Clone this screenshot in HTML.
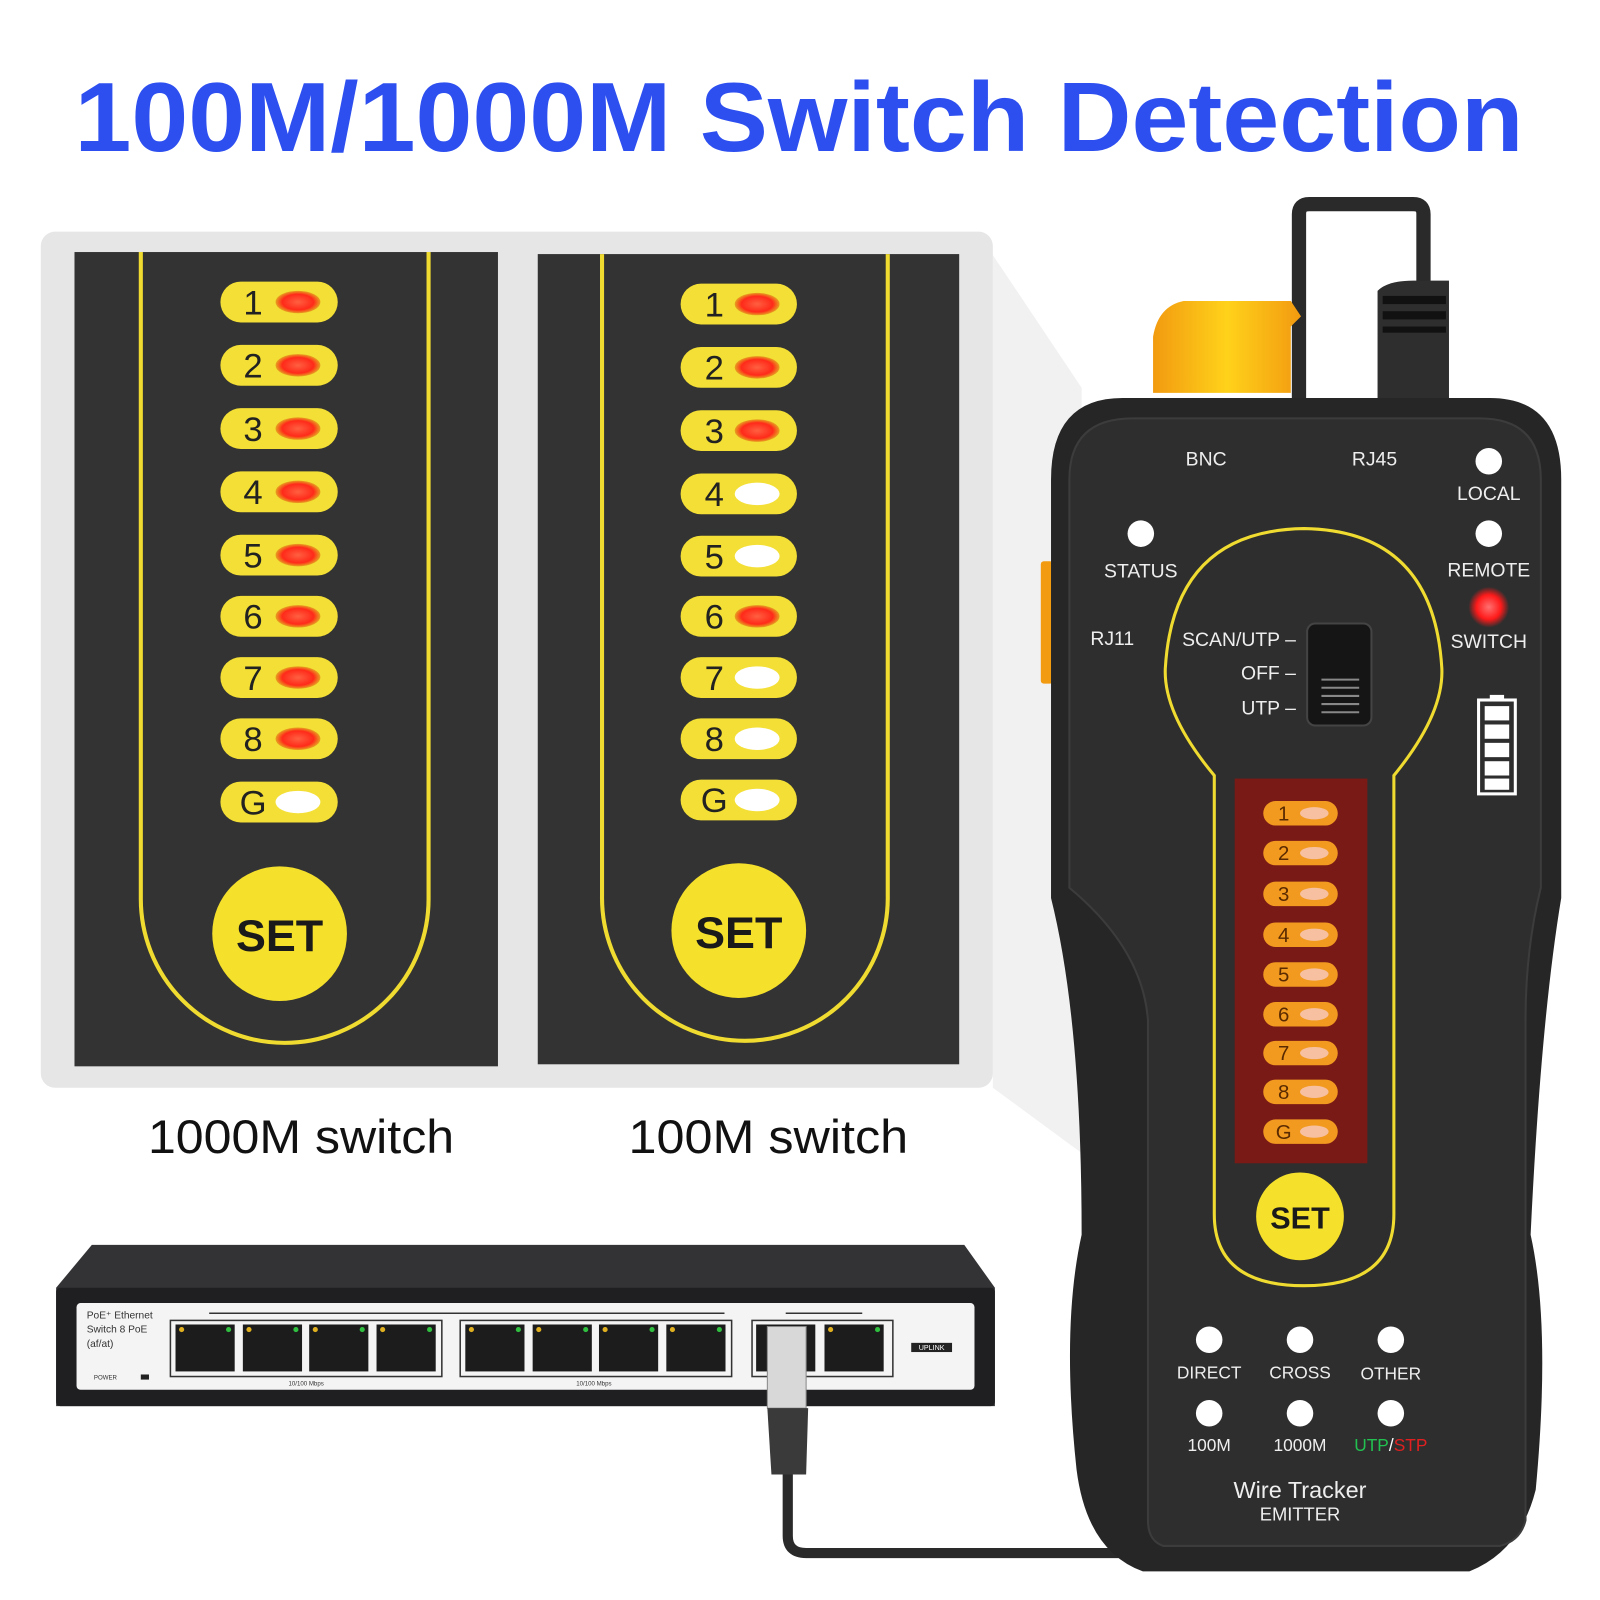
<!DOCTYPE html>
<html><head><meta charset="utf-8"><style>
html,body{margin:0;padding:0;background:#fff;}
svg{display:block;}
text{font-family:"Liberation Sans",sans-serif;}
</style></head><body>
<svg width="1600" height="1600" viewBox="0 0 1568 1568" xmlns="http://www.w3.org/2000/svg">
<defs>
<linearGradient id="yg" x1="0" x2="1"><stop offset="0" stop-color="#f29a10"/><stop offset="0.5" stop-color="#ffd21a"/><stop offset="1" stop-color="#f29a10"/></linearGradient>
<radialGradient id="rg"><stop offset="0" stop-color="#ff6040"/><stop offset="0.7" stop-color="#ff2a1a"/><stop offset="1" stop-color="#e8a020"/></radialGradient>
<radialGradient id="rled"><stop offset="0" stop-color="#ff7070"/><stop offset="0.6" stop-color="#ff1a1a"/><stop offset="1" stop-color="#ff1a1a" stop-opacity="0"/></radialGradient>
</defs>
<rect width="1568" height="1568" fill="#fff"/>
<polygon points="973,250 1060,380 1060,1130 973,1066" fill="#f1f1f1"/>
<text x="783" y="148" font-size="96" font-weight="bold" fill="#2d4ff0" text-anchor="middle" textLength="1420" lengthAdjust="spacingAndGlyphs">100M/1000M Switch Detection</text>
<rect x="40" y="227" width="933" height="839" rx="14" fill="#e6e6e6"/>
<rect x="73" y="247" width="415" height="798" fill="#333"/>
<path d="M138,247 V880 A141,141 0 0 0 279,1022 A141,141 0 0 0 420,880 V247" fill="none" stroke="#f0dc30" stroke-width="4"/>
<rect x="527" y="249" width="413" height="794" fill="#333"/>
<path d="M590,249 V878 A140,140 0 0 0 730,1020 A140,140 0 0 0 870,878 V249" fill="none" stroke="#f0dc30" stroke-width="4"/>
<g font-size="34" fill="#222" text-anchor="middle">
<g>
<rect x="216" y="276" width="115" height="40" rx="20" fill="#f3df35"/><ellipse cx="292" cy="296" rx="22" ry="11" fill="url(#rg)"/><text x="248" y="308">1</text>
<rect x="216" y="338" width="115" height="40" rx="20" fill="#f3df35"/><ellipse cx="292" cy="358" rx="22" ry="11" fill="url(#rg)"/><text x="248" y="370">2</text>
<rect x="216" y="400" width="115" height="40" rx="20" fill="#f3df35"/><ellipse cx="292" cy="420" rx="22" ry="11" fill="url(#rg)"/><text x="248" y="432">3</text>
<rect x="216" y="462" width="115" height="40" rx="20" fill="#f3df35"/><ellipse cx="292" cy="482" rx="22" ry="11" fill="url(#rg)"/><text x="248" y="494">4</text>
<rect x="216" y="524" width="115" height="40" rx="20" fill="#f3df35"/><ellipse cx="292" cy="544" rx="22" ry="11" fill="url(#rg)"/><text x="248" y="556">5</text>
<rect x="216" y="584" width="115" height="40" rx="20" fill="#f3df35"/><ellipse cx="292" cy="604" rx="22" ry="11" fill="url(#rg)"/><text x="248" y="616">6</text>
<rect x="216" y="644" width="115" height="40" rx="20" fill="#f3df35"/><ellipse cx="292" cy="664" rx="22" ry="11" fill="url(#rg)"/><text x="248" y="676">7</text>
<rect x="216" y="704" width="115" height="40" rx="20" fill="#f3df35"/><ellipse cx="292" cy="724" rx="22" ry="11" fill="url(#rg)"/><text x="248" y="736">8</text>
<rect x="216" y="766" width="115" height="40" rx="20" fill="#f3df35"/><ellipse cx="292" cy="786" rx="22" ry="11" fill="#fff"/><text x="248" y="798">G</text>
</g>
<g>
<rect x="667" y="278" width="114" height="40" rx="20" fill="#f3df35"/><ellipse cx="742" cy="298" rx="22" ry="11" fill="url(#rg)"/><text x="700" y="310">1</text>
<rect x="667" y="340" width="114" height="40" rx="20" fill="#f3df35"/><ellipse cx="742" cy="360" rx="22" ry="11" fill="url(#rg)"/><text x="700" y="372">2</text>
<rect x="667" y="402" width="114" height="40" rx="20" fill="#f3df35"/><ellipse cx="742" cy="422" rx="22" ry="11" fill="url(#rg)"/><text x="700" y="434">3</text>
<rect x="667" y="464" width="114" height="40" rx="20" fill="#f3df35"/><ellipse cx="742" cy="484" rx="22" ry="11" fill="#fff"/><text x="700" y="496">4</text>
<rect x="667" y="525" width="114" height="40" rx="20" fill="#f3df35"/><ellipse cx="742" cy="545" rx="22" ry="11" fill="#fff"/><text x="700" y="557">5</text>
<rect x="667" y="584" width="114" height="40" rx="20" fill="#f3df35"/><ellipse cx="742" cy="604" rx="22" ry="11" fill="url(#rg)"/><text x="700" y="616">6</text>
<rect x="667" y="644" width="114" height="40" rx="20" fill="#f3df35"/><ellipse cx="742" cy="664" rx="22" ry="11" fill="#fff"/><text x="700" y="676">7</text>
<rect x="667" y="704" width="114" height="40" rx="20" fill="#f3df35"/><ellipse cx="742" cy="724" rx="22" ry="11" fill="#fff"/><text x="700" y="736">8</text>
<rect x="667" y="764" width="114" height="40" rx="20" fill="#f3df35"/><ellipse cx="742" cy="784" rx="22" ry="11" fill="#fff"/><text x="700" y="796">G</text>
</g>
</g>
<circle cx="274" cy="915" r="66" fill="#f5e02c"/><text x="274" y="932" font-size="44" font-weight="bold" text-anchor="middle" fill="#1a1a1a">SET</text>
<circle cx="724" cy="912" r="66" fill="#f5e02c"/><text x="724" y="929" font-size="44" font-weight="bold" text-anchor="middle" fill="#1a1a1a">SET</text>
<text x="295" y="1130" font-size="46" text-anchor="middle" fill="#111" textLength="300" lengthAdjust="spacingAndGlyphs">1000M switch</text>
<text x="753" y="1130" font-size="46" text-anchor="middle" fill="#111" textLength="274" lengthAdjust="spacingAndGlyphs">100M switch</text>
<path d="M90,1220 H945 L975,1262 V1378 H55 V1262 Z" fill="#333336"/>
<rect x="55" y="1262" width="920" height="116" rx="4" fill="#1f1f22"/>
<rect x="75" y="1277" width="880" height="85" rx="4" fill="#f4f4f4"/>
<text x="85" y="1292" font-size="10" fill="#333">PoE⁺ Ethernet</text>
<text x="85" y="1306" font-size="10" fill="#333">Switch 8 PoE</text>
<text x="85" y="1320" font-size="10" fill="#333">(af/at)</text>
<text x="92" y="1352" font-size="6" fill="#333">POWER</text>
<rect x="138" y="1347" width="8" height="5" fill="#222"/>
<line x1="205" y1="1287" x2="710" y2="1287" stroke="#333" stroke-width="1.5"/>
<line x1="770" y1="1287" x2="845" y2="1287" stroke="#333" stroke-width="1.5"/>
<rect x="167" y="1294" width="266" height="55" fill="none" stroke="#333" stroke-width="1.5"/>
<rect x="451" y="1294" width="266" height="55" fill="none" stroke="#333" stroke-width="1.5"/>
<rect x="737" y="1294" width="138" height="55" fill="none" stroke="#333" stroke-width="1.5"/>
<g fill="#1c1c1c">
<rect x="172" y="1298" width="58" height="46"/><rect x="238" y="1298" width="58" height="46"/><rect x="303" y="1298" width="58" height="46"/><rect x="369" y="1298" width="58" height="46"/>
<rect x="456" y="1298" width="58" height="46"/><rect x="522" y="1298" width="58" height="46"/><rect x="587" y="1298" width="58" height="46"/><rect x="653" y="1298" width="58" height="46"/>
<rect x="741" y="1298" width="58" height="46"/><rect x="808" y="1298" width="58" height="46"/>
</g>
<g fill="#e0b020"><circle cx="178" cy="1303" r="2.5"/><circle cx="244" cy="1303" r="2.5"/><circle cx="309" cy="1303" r="2.5"/><circle cx="375" cy="1303" r="2.5"/><circle cx="462" cy="1303" r="2.5"/><circle cx="528" cy="1303" r="2.5"/><circle cx="593" cy="1303" r="2.5"/><circle cx="659" cy="1303" r="2.5"/><circle cx="814" cy="1303" r="2.5"/></g>
<g fill="#30c040"><circle cx="224" cy="1303" r="2.5"/><circle cx="290" cy="1303" r="2.5"/><circle cx="355" cy="1303" r="2.5"/><circle cx="421" cy="1303" r="2.5"/><circle cx="508" cy="1303" r="2.5"/><circle cx="574" cy="1303" r="2.5"/><circle cx="639" cy="1303" r="2.5"/><circle cx="705" cy="1303" r="2.5"/><circle cx="860" cy="1303" r="2.5"/></g>
<rect x="893" y="1316" width="40" height="9" fill="#222"/><text x="913" y="1323" font-size="7" fill="#fff" text-anchor="middle">UPLINK</text>
<text x="300" y="1358" font-size="6" fill="#333" text-anchor="middle">10/100 Mbps</text>
<text x="582" y="1358" font-size="6" fill="#333" text-anchor="middle">10/100 Mbps</text>
<path d="M772,1420 V1505 Q772,1522 790,1522 H1110" fill="none" stroke="#2a2a2a" stroke-width="10"/>
<rect x="752" y="1300" width="38" height="80" fill="#d8d8d8" stroke="#888"/>
<path d="M752,1380 H792 L790,1445 H756 Z" fill="#3a3a3a"/>
<path d="M1273,390 V210 Q1273,200 1283,200 H1385 Q1395,200 1395,210 V290" fill="none" stroke="#2a2a2a" stroke-width="14"/>
<path d="M1130,385 V330 Q1135,300 1160,295 H1265 L1275,310 L1265,320 V385 Z" fill="url(#yg)"/>
<path d="M1350,390 V285 Q1360,275 1385,275 H1420 V390 Z" fill="#2e2e2e"/>
<rect x="1355" y="290" width="62" height="8" fill="#111"/><rect x="1355" y="305" width="62" height="8" fill="#111"/><rect x="1355" y="320" width="62" height="6" fill="#111"/>
<rect x="1020" y="550" width="12" height="120" rx="3" fill="#f29a10"/>
<path d="M1100,390 H1460 Q1530,390 1530,470 V880 Q1510,1000 1500,1210 Q1520,1300 1505,1460 Q1490,1520 1440,1540 H1120 Q1065,1520 1055,1440 Q1040,1300 1060,1210 Q1060,1000 1030,880 V470 Q1030,390 1100,390 Z" fill="#262626"/>
<path d="M1110,410 H1450 Q1510,410 1510,470 V870 Q1495,930 1495,1000 V1490 Q1490,1510 1470,1515 H1140 Q1125,1510 1125,1490 V1000 Q1120,930 1048,870 V470 Q1048,410 1110,410 Z" fill="#2e2e2e" stroke="#3c3c3c" stroke-width="2"/>
<path d="M1190,760 Q1140,700 1142,655 Q1150,520 1278,518 Q1405,520 1413,655 Q1415,700 1366,760 V1190 Q1366,1260 1278,1260 Q1190,1260 1190,1190 Z" fill="none" stroke="#f0dc30" stroke-width="3"/>
<g fill="#eee" font-size="19" text-anchor="middle">
<text x="1182" y="456">BNC</text><text x="1347" y="456">RJ45</text>
<circle cx="1459" cy="452" r="13" fill="#fff"/><text x="1459" y="490">LOCAL</text>
<circle cx="1118" cy="523" r="13" fill="#fff"/><text x="1118" y="566">STATUS</text>
<circle cx="1459" cy="523" r="13" fill="#fff"/><text x="1459" y="565">REMOTE</text>
<circle cx="1459" cy="595" r="20" fill="url(#rled)"/><text x="1459" y="635">SWITCH</text>
<text x="1090" y="632">RJ11</text>
<text x="1270" y="633" text-anchor="end">SCAN/UTP –</text>
<text x="1270" y="666" text-anchor="end">OFF –</text>
<text x="1270" y="700" text-anchor="end">UTP –</text>
</g>
<rect x="1281" y="611" width="63" height="100" rx="8" fill="#151515" stroke="#444" stroke-width="2"/>
<g stroke="#888" stroke-width="2"><line x1="1295" y1="666" x2="1332" y2="666"/><line x1="1295" y1="674" x2="1332" y2="674"/><line x1="1295" y1="682" x2="1332" y2="682"/><line x1="1295" y1="690" x2="1332" y2="690"/><line x1="1295" y1="698" x2="1332" y2="698"/></g>
<rect x="1449" y="686" width="36" height="92" fill="none" stroke="#fff" stroke-width="3"/>
<rect x="1460" y="681" width="14" height="5" fill="#fff"/>
<g fill="#fff"><rect x="1455" y="692" width="24" height="14"/><rect x="1455" y="710" width="24" height="14"/><rect x="1455" y="728" width="24" height="14"/><rect x="1455" y="746" width="24" height="14"/><rect x="1455" y="763" width="24" height="11"/></g>
<rect x="1210" y="763" width="130" height="377" fill="#7a1a16"/>
<g font-size="20" fill="#5a2a00" text-anchor="middle">
<rect x="1238" y="785" width="73" height="24" rx="12" fill="#f29a20"/><ellipse cx="1288" cy="797" rx="14" ry="6" fill="#f7c0a0"/><text x="1258" y="804">1</text>
<rect x="1238" y="824" width="73" height="24" rx="12" fill="#f29a20"/><ellipse cx="1288" cy="836" rx="14" ry="6" fill="#f7c0a0"/><text x="1258" y="843">2</text>
<rect x="1238" y="864" width="73" height="24" rx="12" fill="#f29a20"/><ellipse cx="1288" cy="876" rx="14" ry="6" fill="#f7c0a0"/><text x="1258" y="883">3</text>
<rect x="1238" y="904" width="73" height="24" rx="12" fill="#f29a20"/><ellipse cx="1288" cy="916" rx="14" ry="6" fill="#f7c0a0"/><text x="1258" y="923">4</text>
<rect x="1238" y="943" width="73" height="24" rx="12" fill="#f29a20"/><ellipse cx="1288" cy="955" rx="14" ry="6" fill="#f7c0a0"/><text x="1258" y="962">5</text>
<rect x="1238" y="982" width="73" height="24" rx="12" fill="#f29a20"/><ellipse cx="1288" cy="994" rx="14" ry="6" fill="#f7c0a0"/><text x="1258" y="1001">6</text>
<rect x="1238" y="1020" width="73" height="24" rx="12" fill="#f29a20"/><ellipse cx="1288" cy="1032" rx="14" ry="6" fill="#f7c0a0"/><text x="1258" y="1039">7</text>
<rect x="1238" y="1058" width="73" height="24" rx="12" fill="#f29a20"/><ellipse cx="1288" cy="1070" rx="14" ry="6" fill="#f7c0a0"/><text x="1258" y="1077">8</text>
<rect x="1238" y="1097" width="73" height="24" rx="12" fill="#f29a20"/><ellipse cx="1288" cy="1109" rx="14" ry="6" fill="#f7c0a0"/><text x="1258" y="1116">G</text>
</g>
<circle cx="1274" cy="1192" r="43" fill="#f5e02c"/><text x="1274" y="1204" font-size="30" font-weight="bold" text-anchor="middle" fill="#1a1a1a">SET</text>
<g fill="#fff"><circle cx="1185" cy="1313" r="13"/><circle cx="1274" cy="1313" r="13"/><circle cx="1363" cy="1313" r="13"/><circle cx="1185" cy="1385" r="13"/><circle cx="1274" cy="1385" r="13"/><circle cx="1363" cy="1385" r="13"/></g>
<g fill="#eee" font-size="17" text-anchor="middle">
<text x="1185" y="1351">DIRECT</text><text x="1274" y="1351">CROSS</text><text x="1363" y="1352">OTHER</text>
<text x="1185" y="1422">100M</text><text x="1274" y="1422">1000M</text>
<text x="1363" y="1422"><tspan fill="#22c050">UTP</tspan><tspan fill="#fff">/</tspan><tspan fill="#e02020">STP</tspan></text>
<text x="1274" y="1468" font-size="23">Wire Tracker</text>
<text x="1274" y="1490" font-size="18">EMITTER</text>
</g>
</svg>
</body></html>
